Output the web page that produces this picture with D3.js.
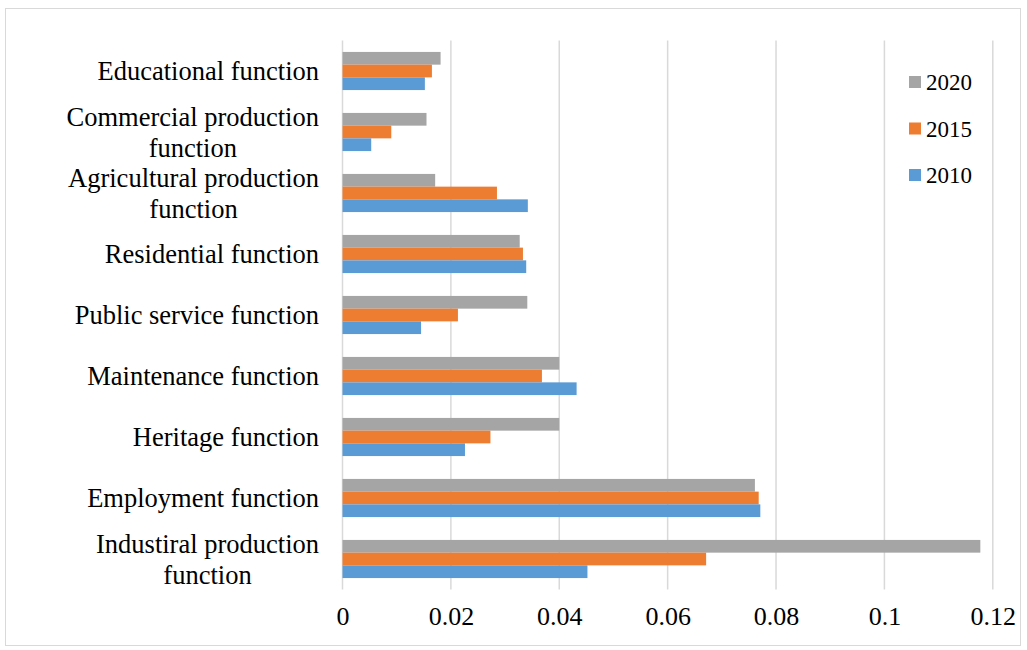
<!DOCTYPE html>
<html>
<head>
<meta charset="utf-8">
<script src="https://cdn.jsdelivr.net/npm/d3@7"></script>
<style>
  html, body { margin: 0; padding: 0; background: #ffffff; }
  svg { display: block; }
  text { font-family: "Liberation Serif", "Times New Roman", serif; fill: #000; }
</style>
</head>
<body>
<svg id="chart" width="1027" height="650"></svg>
<script>
// Categories, listed top to bottom (each entry holds the wrapped label lines)
const categories = [
  ["Educational function"],
  ["Commercial production", "function"],
  ["Agricultural production", "function"],
  ["Residential function"],
  ["Public service function"],
  ["Maintenance function"],
  ["Heritage function"],
  ["Employment function"],
  ["Industiral production", "function"]
];
const categoryKeys = categories.map(c => c.join(" "));

// Series values, same order as categories
const years = ["2020", "2015", "2010"];
const values2020 = [0.0181, 0.0155, 0.0171, 0.0327, 0.0341, 0.0400, 0.0400, 0.0761, 0.1177];
const values2015 = [0.0165, 0.0090, 0.0285, 0.0333, 0.0213, 0.0368, 0.0273, 0.0768, 0.0671];
const values2010 = [0.0152, 0.0053, 0.0342, 0.0339, 0.0145, 0.0432, 0.0226, 0.0771, 0.0452];
const xTicks = [0, 0.02, 0.04, 0.06, 0.08, 0.1, 0.12];
const xTickLabels = ["0", "0.02", "0.04", "0.06", "0.08", "0.1", "0.12"];

const seriesValues = { "2020": values2020, "2015": values2015, "2010": values2010 };
const colors = { "2020": "#a5a5a5", "2015": "#ed7d31", "2010": "#5b9bd5" };

const svg = d3.select("#chart");
const gridColor = "#d9d9d9";

// outer chart frame
svg.append("rect")
  .attr("x", 5.5).attr("y", 8.5)
  .attr("width", 1015).attr("height", 637)
  .attr("fill", "#fff")
  .attr("stroke", gridColor).attr("stroke-width", 1);

const plot = { left: 342.5, right: 992.8, top: 40.5, bottom: 589.5 };

const x = d3.scaleLinear().domain([0, 0.12]).range([plot.left, plot.right]);
const y = d3.scaleBand().domain(categoryKeys).range([plot.top, plot.bottom]).paddingInner(0.375).paddingOuter(0.1875);
const ySub = d3.scaleBand().domain(years).range([0, y.bandwidth()]);

// vertical gridlines
svg.append("g").selectAll("line")
  .data(xTicks)
  .join("line")
  .attr("x1", d => x(d)).attr("x2", d => x(d))
  .attr("y1", plot.top).attr("y2", plot.bottom)
  .attr("stroke", gridColor).attr("stroke-width", 1.5);

// bars
const groups = svg.append("g").selectAll("g")
  .data(categoryKeys.map((k, i) => ({ key: k, i })))
  .join("g")
  .attr("transform", d => `translate(0,${y(d.key)})`);

groups.selectAll("rect")
  .data(d => years.map(yr => ({ yr, v: seriesValues[yr][d.i] })))
  .join("rect")
  .attr("x", x(0))
  .attr("y", d => ySub(d.yr))
  .attr("width", d => x(d.v) - x(0))
  .attr("height", ySub.bandwidth())
  .attr("fill", d => colors[d.yr]);

// x axis (labels only)
const xAxis = d3.axisBottom(x)
  .tickValues(xTicks)
  .tickFormat((d, i) => xTickLabels[i])
  .tickSize(0)
  .tickPadding(0);
const gx = svg.append("g")
  .attr("transform", `translate(0,${plot.bottom})`)
  .call(xAxis);
gx.select(".domain").remove();
gx.selectAll("text")
  .attr("y", 35)
  .attr("dy", 0)
  .style("font-size", "26px")
  .style("font-family", '"Liberation Serif", "Times New Roman", serif')
  .attr("fill", "#000");

// category labels, wrapped lines centred within their block
const labelRight = 319;
const lineHeight = 31;
const labelG = svg.append("g");
categories.forEach((lines, i) => {
  const cy = y(categoryKeys[i]) + y.bandwidth() / 2;
  const t = labelG.append("text")
    .attr("font-size", 26.5)
    .attr("text-anchor", "middle");
  const spans = lines.map(ln => t.append("tspan").text(ln));
  const widths = spans.map(s => s.node().getComputedTextLength());
  const maxW = d3.max(widths);
  const cx = labelRight - maxW / 2;
  const n = lines.length;
  spans.forEach((s, j) => {
    s.attr("x", cx)
      .attr("y", cy + (j - (n - 1) / 2) * lineHeight + 9);
  });
});

// legend
const legend = svg.append("g");
years.forEach((yr, i) => {
  const ly = 82 + i * 46.5;
  legend.append("rect")
    .attr("x", 909).attr("y", ly - 6)
    .attr("width", 12).attr("height", 12)
    .attr("fill", colors[yr]);
  legend.append("text")
    .attr("x", 926).attr("y", ly + 8)
    .attr("font-size", 23)
    .text(yr);
});
</script>
</body>
</html>
